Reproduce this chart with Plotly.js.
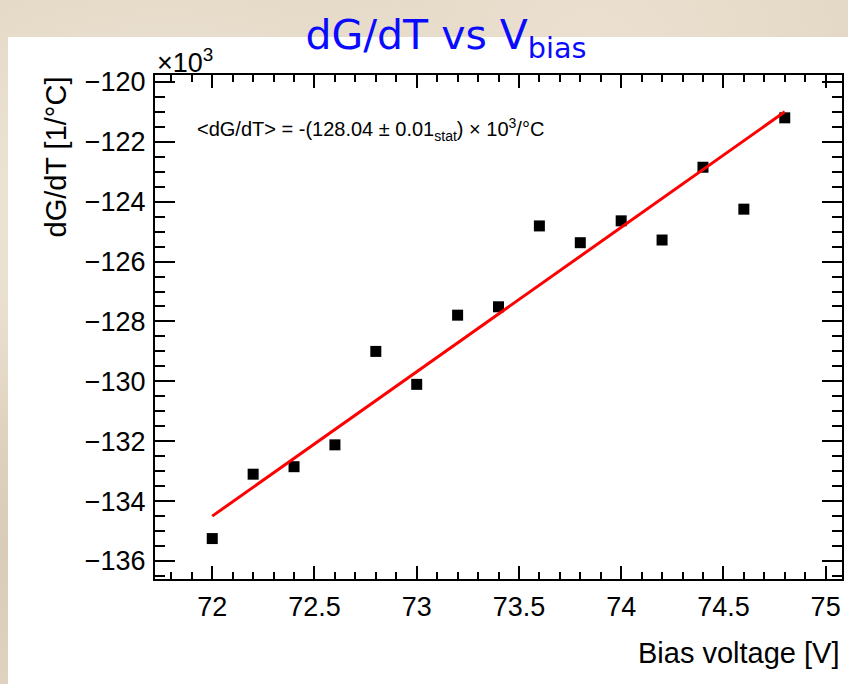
<!DOCTYPE html>
<html>
<head>
<meta charset="utf-8">
<script src="https://cdn.plot.ly/plotly-3.0.1.min.js"></script>
<style>
  html, body { margin: 0; padding: 0; }
  body {
    width: 848px; height: 684px; overflow: hidden; position: relative;
    background-color: #e3d7c4;
    background-image:
      radial-gradient(ellipse at 20% 30%, rgba(255,250,240,0.55), rgba(255,250,240,0) 40%),
      radial-gradient(ellipse at 70% 10%, rgba(240,230,215,0.7), rgba(240,230,215,0) 35%),
      radial-gradient(ellipse at 90% 60%, rgba(205,190,170,0.5), rgba(205,190,170,0) 40%),
      radial-gradient(ellipse at 5% 80%, rgba(210,195,175,0.6), rgba(210,195,175,0) 30%);
  }
  #paper { position: absolute; left: 8px; top: 37px; width: 840px; height: 647px; background: #ffffff; }
  #chart { position: absolute; left: 0; top: 0; width: 848px; height: 684px; }
</style>
</head>
<body>
<div id="paper"></div>
<div id="chart"></div>
<script>
// Bias voltage [V]
const biasVoltage = [72.0, 72.2, 72.4, 72.6, 72.8, 73.0, 73.2, 73.4, 73.6, 73.8, 74.0, 74.2, 74.4, 74.6, 74.8];
// dG/dT [1/°C] in units of 10^3
const dGdT = [-135.25, -133.10, -132.85, -132.12, -129.00, -130.10, -127.79, -127.51, -124.81, -125.37, -124.64, -125.28, -122.85, -124.25, -121.20];
// Linear fit end points
const fitX = [72.0, 74.8];
const fitY = [-134.5, -121.0];

const font = 'Liberation Sans, Arial, sans-serif';

const traces = [
  {
    x: biasVoltage, y: dGdT, type: 'scatter', mode: 'markers',
    marker: { symbol: 'square', size: 11, color: '#000000' },
    hoverinfo: 'skip', showlegend: false
  },
  {
    x: fitX, y: fitY, type: 'scatter', mode: 'lines',
    line: { color: '#ff0000', width: 3 },
    hoverinfo: 'skip', showlegend: false
  }
];

const layout = {
  width: 848, height: 684,
  paper_bgcolor: 'rgba(0,0,0,0)',
  plot_bgcolor: '#ffffff',
  margin: { l: 155, r: 6, t: 75, b: 105 },
  showlegend: false,
  title: {
    text: 'dG/dT vs V<sub>bias</sub>',
    font: { family: 'DejaVu Sans, sans-serif', size: 41, color: '#0a0aff' },
    xref: 'container', yref: 'container',
    x: 446 / 848, xanchor: 'center',
    y: 1 - 35 / 684, yanchor: 'middle'
  },
  xaxis: {
    range: [71.72, 75.08],
    tick0: 72, dtick: 0.5,
    ticks: 'inside', ticklen: 13, tickwidth: 2, tickcolor: '#000',
    minor: { dtick: 0.1, ticks: 'inside', ticklen: 7, tickwidth: 2, tickcolor: '#000' },
    showline: true, linecolor: '#000', linewidth: 2, mirror: 'ticks',
    showgrid: false, zeroline: false,
    tickfont: { family: font, size: 27, color: '#000' },
    ticklabelstandoff: 3
  },
  yaxis: {
    range: [-136.6, -119.77],
    tick0: -120, dtick: 2,
    ticks: 'inside', ticklen: 20, tickwidth: 2, tickcolor: '#000',
    minor: { dtick: 0.5, ticks: 'inside', ticklen: 10, tickwidth: 2, tickcolor: '#000' },
    showline: true, linecolor: '#000', linewidth: 2, mirror: 'ticks',
    showgrid: false, zeroline: false,
    tickfont: { family: font, size: 27, color: '#000' },
    ticklabelstandoff: 2
  },
  annotations: [
    {
      text: 'dG/dT [1/°C]', textangle: -90,
      xref: 'paper', yref: 'paper',
      x: (55 - 155) / 687, xanchor: 'center',
      y: 1, yanchor: 'top',
      showarrow: false,
      font: { family: font, size: 29, color: '#000' }
    },
    {
      text: 'Bias voltage [V]',
      xref: 'paper', yref: 'paper',
      x: 1, xanchor: 'right',
      y: (579 - 653) / 504, yanchor: 'middle',
      showarrow: false,
      font: { family: font, size: 29, color: '#000' }
    },
    {
      text: '×10<sup>3</sup>',
      xref: 'paper', yref: 'paper',
      x: 0, xanchor: 'left',
      y: 1, yanchor: 'bottom', yshift: -5,
      showarrow: false,
      font: { family: font, size: 27, color: '#000' }
    },
    {
      text: '&lt;dG/dT&gt; = -(128.04 ± 0.01<sub>stat</sub>) × 10<sup>3</sup>/°C',
      xref: 'paper', yref: 'paper',
      x: (195 - 155) / 687, xanchor: 'left',
      y: (579 - 130) / 504, yanchor: 'middle',
      showarrow: false,
      font: { family: font, size: 20, color: '#000' }
    }
  ]
};

Plotly.newPlot('chart', traces, layout, { displayModeBar: false, staticPlot: true });
</script>
</body>
</html>
